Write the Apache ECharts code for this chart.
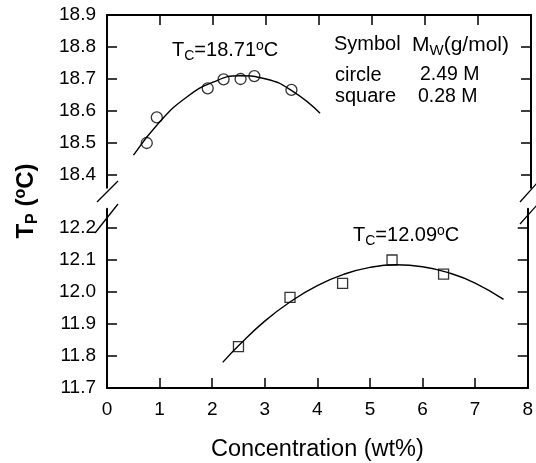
<!DOCTYPE html>
<html>
<head>
<meta charset="utf-8">
<script src="https://cdn.jsdelivr.net/npm/echarts@6/dist/echarts.min.js"></script>
<style>
html,body{margin:0;padding:0;background:#fff;}
#chart{width:536px;height:463px;}
</style>
</head>
<body>
<div id="chart"></div>
<script>
// ---- data ----
const xTicks = [0, 1, 2, 3, 4, 5, 6, 7, 8];
const upperTicks = [18.4, 18.5, 18.6, 18.7, 18.8, 18.9];
const lowerTicks = [11.7, 11.8, 11.9, 12.0, 12.1, 12.2];

// circles: Mw = 2.49 M
const circleX = [0.75, 0.94, 1.90, 2.20, 2.52, 2.78, 3.48];
const circleY = [18.50, 18.58, 18.671, 18.699, 18.700, 18.709, 18.666];
// squares: Mw = 0.28 M
const squareX = [2.50, 3.48, 4.48, 5.42, 6.40];
const squareY = [11.829, 11.983, 12.027, 12.100, 12.056];

// fitted curves
const fitUpperX = [0.5, 1.0, 1.5, 2.0, 2.5, 3.0, 3.5, 4.02];
const fitUpperY = [18.462, 18.567, 18.643, 18.690, 18.710, 18.700, 18.662, 18.593];
const fitLowerX = [2.2, 2.5, 3.0, 3.5, 4.0, 4.5, 5.0, 5.5, 6.0, 6.5, 7.0, 7.54];
const fitLowerY = [11.780, 11.832, 11.909, 11.971, 12.020, 12.055, 12.077, 12.085, 12.079, 12.060, 12.028, 11.977];

const zip = (xs, ys) => xs.map((x, i) => [x, ys[i]]);

// ---- styling ----
const FONT = '"Liberation Sans", Arial, Helvetica, sans-serif';
const INK = '#000';
const axisLineStyle = { show: true, lineStyle: { color: INK, width: 2 } };
const tickStyle = { show: true, inside: true, length: 10, lineStyle: { color: INK, width: 1.5 } };

function richFor(size, subSize) {
  return {
    m: { fontSize: size, fontFamily: FONT, color: INK, lineHeight: 20, padding: [4, 0, 0, 0], verticalAlign: 'top' },
    s: { fontSize: subSize, fontFamily: FONT, color: INK, lineHeight: 13, padding: [12.8, 0, 0, 0], verticalAlign: 'top' },
    o: { fontSize: 14, fontFamily: FONT, color: INK, lineHeight: 13, padding: [3.0, 0, 0, 0], verticalAlign: 'top' }
  };
}
function anno(x, y, text, size, subSize) {
  return {
    type: 'text', x: x, y: y, silent: true,
    style: { text: text, rich: richFor(size, subSize || 13), align: 'left', verticalAlign: 'top', fill: INK, font: size + 'px ' + FONT }
  };
}
function slash(x1, y1, x2, y2) {
  return { type: 'line', silent: true, shape: { x1, y1, x2, y2 }, style: { stroke: INK, lineWidth: 1.3 } };
}

const chart = echarts.init(document.getElementById('chart'), null, { renderer: 'canvas' });

const option = {
  backgroundColor: '#fff',
  animation: false,
  textStyle: { fontFamily: FONT, color: INK },
  grid: [
    { left: 107, width: 424, top: 15, height: 172.8 },
    { left: 107, width: 424, top: 208.8, height: 179.2 }
  ],
  xAxis: [
    {
      type: 'value', gridIndex: 0, position: 'top', min: 0, max: 8, interval: 1,
      axisLine: axisLineStyle, axisTick: tickStyle, axisLabel: { show: false }, splitLine: { show: false }
    },
    {
      type: 'value', gridIndex: 1, position: 'bottom', min: 0, max: 8, interval: 1,
      axisLine: axisLineStyle, axisTick: tickStyle,
      axisLabel: { show: true, color: INK, fontSize: 19, fontFamily: FONT, margin: 12,
        customValues: xTicks, formatter: v => String(v) },
      splitLine: { show: false },
      name: 'Concentration (wt%)', nameLocation: 'middle', nameGap: 50,
      nameTextStyle: { fontSize: 23.5, fontFamily: FONT, color: INK }
    }
  ],
  yAxis: [
    {
      type: 'value', gridIndex: 0, position: 'left', min: 18.36, max: 18.9,
      axisLine: axisLineStyle,
      axisTick: Object.assign({}, tickStyle, { customValues: upperTicks }),
      axisLabel: { color: INK, fontSize: 19, fontFamily: FONT, margin: 11, customValues: upperTicks, formatter: v => v.toFixed(1) },
      splitLine: { show: false }
    },
    {
      type: 'value', gridIndex: 0, position: 'right', min: 18.36, max: 18.9,
      axisLine: axisLineStyle,
      axisTick: Object.assign({}, tickStyle, { customValues: upperTicks }),
      axisLabel: { show: false }, splitLine: { show: false }
    },
    {
      type: 'value', gridIndex: 1, position: 'left', min: 11.7, max: 12.26,
      axisLine: axisLineStyle,
      axisTick: Object.assign({}, tickStyle, { customValues: lowerTicks }),
      axisLabel: { color: INK, fontSize: 19, fontFamily: FONT, margin: 11, customValues: lowerTicks, formatter: v => v.toFixed(1) },
      splitLine: { show: false }
    },
    {
      type: 'value', gridIndex: 1, position: 'right', min: 11.7, max: 12.26,
      axisLine: axisLineStyle,
      axisTick: Object.assign({}, tickStyle, { customValues: lowerTicks }),
      axisLabel: { show: false }, splitLine: { show: false }
    }
  ],
  series: [
    {
      name: 'fit 2.49 M', type: 'line', xAxisIndex: 0, yAxisIndex: 0,
      data: zip(fitUpperX, fitUpperY), smooth: true, showSymbol: false, symbol: 'none',
      lineStyle: { color: INK, width: 1.4 }, z: 2
    },
    {
      name: 'circle 2.49 M', type: 'scatter', xAxisIndex: 0, yAxisIndex: 0,
      data: zip(circleX, circleY), symbol: 'circle', symbolSize: 11,
      itemStyle: { color: 'rgba(0,0,0,0)', borderColor: INK, borderWidth: 1.3 }, z: 3
    },
    {
      name: 'fit 0.28 M', type: 'line', xAxisIndex: 1, yAxisIndex: 2,
      data: zip(fitLowerX, fitLowerY), smooth: true, showSymbol: false, symbol: 'none',
      lineStyle: { color: INK, width: 1.4 }, z: 2
    },
    {
      name: 'square 0.28 M', type: 'scatter', xAxisIndex: 1, yAxisIndex: 2,
      data: zip(squareX, squareY), symbol: 'rect', symbolSize: 10,
      itemStyle: { color: 'rgba(0,0,0,0)', borderColor: INK, borderWidth: 1.3 }, z: 3
    }
  ],
  graphic: [
    anno(172, 36, '{m|T}{s|C}{m|=18.71}{o|o}{m|C}', 20, 14),
    anno(353, 221, '{m|T}{s|C}{m|=12.09}{o|o}{m|C}', 20, 14),
    anno(334, 30.5, '{m|Symbol}', 20),
    anno(412, 30.5, '{m|M}{s|W}{m|(g/mol)}', 21, 15),
    anno(335, 61, '{m|circle}', 20),
    anno(420, 61, '{m|2.49 M}', 19.5),
    anno(335, 82.5, '{m|square}', 20),
    anno(418, 82.5, '{m|0.28 M}', 19.5),
    {
      type: 'text', x: 22, y: 201, rotation: Math.PI / 2, silent: true,
      style: {
        text: '{b|T}{bs|P}{b| (}{bo|o}{b|C)}', align: 'center', verticalAlign: 'middle', fill: INK,
        font: 'bold 24px ' + FONT,
        rich: {
          b: { fontSize: 24, fontWeight: 'bold', fontFamily: FONT, color: INK, lineHeight: 24, padding: [4, 0, 0, 0], verticalAlign: 'top' },
          bs: { fontSize: 16, fontWeight: 'bold', fontFamily: FONT, color: INK, lineHeight: 16, padding: [15, 0, 0, 0], verticalAlign: 'top' },
          bo: { fontSize: 16, fontWeight: 'bold', fontFamily: FONT, color: INK, lineHeight: 16, padding: [3, 0, 0, 0], verticalAlign: 'top' }
        }
      }
    },
    slash(97, 202, 118, 181),
    slash(95, 233, 118, 204),
    slash(520, 202, 537, 183),
    slash(520, 224, 537, 205)
  ]
};
chart.setOption(option);
</script>
</body>
</html>
